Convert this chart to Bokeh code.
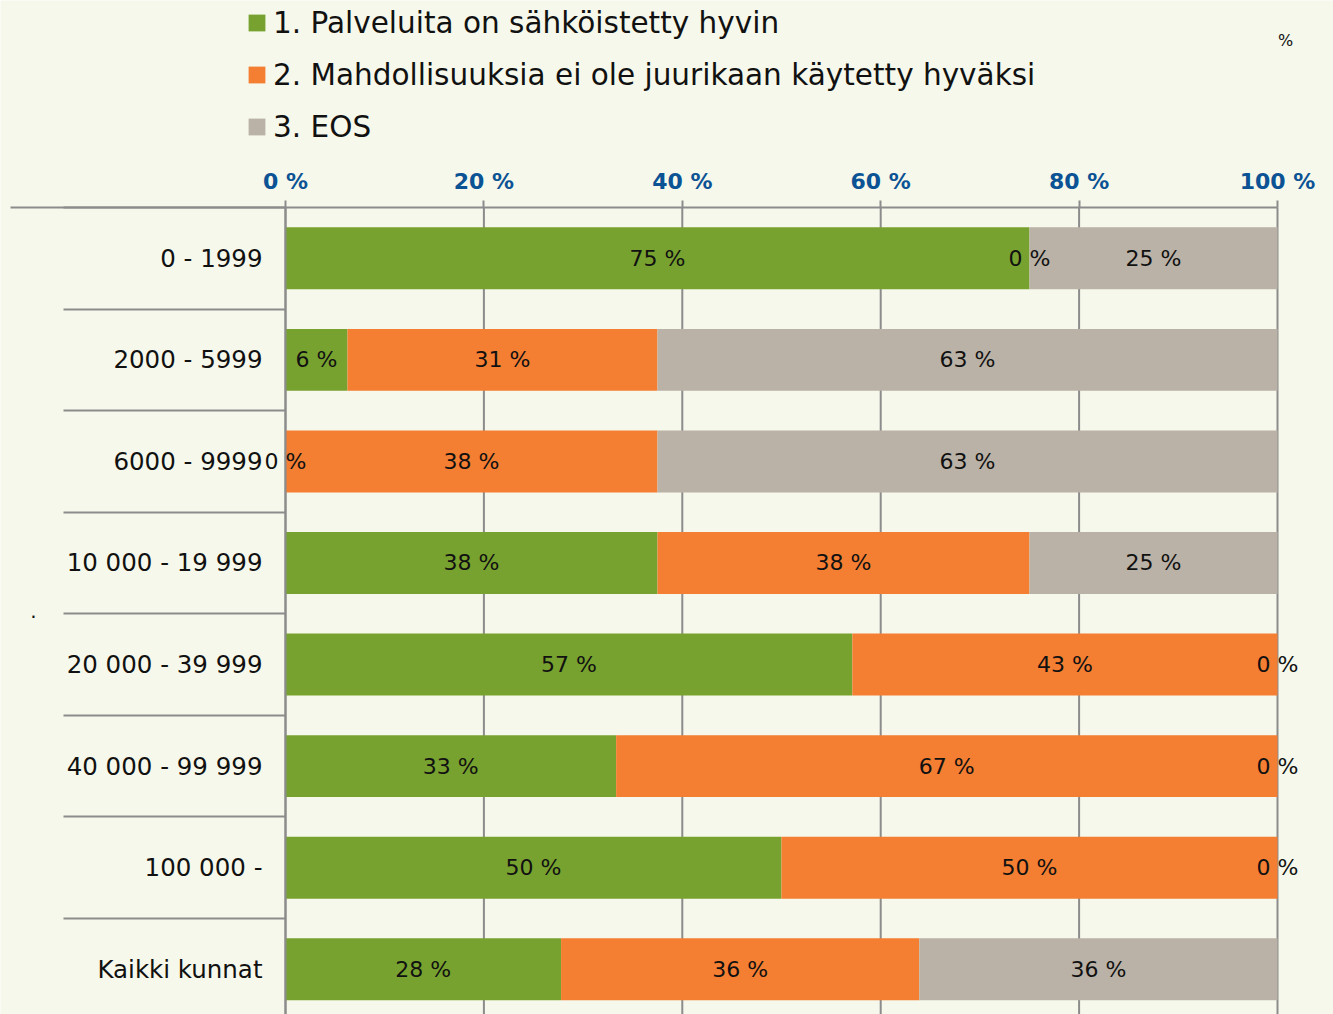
from bokeh.plotting import figure
from bokeh.models import (ColumnDataSource, Range1d, FixedTicker, Legend, LegendItem,
                          LabelSet, Label, LinearAxis)
from bokeh.embed import file_html
from bokeh.resources import INLINE
from bokeh.core.properties import value

# ---- data ----
categories = ["0 - 1999", "2000 - 5999", "6000 - 9999", "10 000 - 19 999",
              "20 000 - 39 999", "40 000 - 99 999", "100 000 -", "Kaikki kunnat"]
series_names = ["1. Palveluita on sähköistetty hyvin",
                "2. Mahdollisuuksia ei ole juurikaan käytetty hyväksi",
                "3. EOS"]
palveluita = [75.0, 6.25, 0.0, 37.5, 57.14, 33.33, 50.0, 27.78]
mahdollisuuksia = [0.0, 31.25, 37.5, 37.5, 42.86, 66.67, 50.0, 36.11]
eos = [25.0, 62.5, 62.5, 25.0, 0.0, 0.0, 0.0, 36.11]
x_ticks = [0, 20, 40, 60, 80, 100]
x_tick_labels = ["0 %", "20 %", "40 %", "60 %", "80 %", "100 %"]

colors = ["#78A22F", "#F47E32", "#BAB2A6"]
BG = "#F6F8EB"
GRID = "#8C8C8C"
FONT = "DejaVu Sans"

# ---- layout (pixels) ----
W, H = 1333, 1014
X0_PX, X100_PX = 285, 1277          # 0 % and 100 % positions
TOP_PX, BAND_PX = 207, 101.57       # top of first category band, band height
pxu = (X100_PX - X0_PX) / 100.0
x_min = -X0_PX / pxu
x_max = (W - X0_PX) / pxu
y_top = -0.5 - TOP_PX / BAND_PX
y_bot = -0.5 + (H - TOP_PX) / BAND_PX
line_left = (10 - X0_PX) / pxu      # top rule extends to the far left

ys = list(range(len(categories)))
series = [palveluita, mahdollisuuksia, eos]
keys = ["s1", "s2", "s3"]
src = ColumnDataSource(dict(y=ys, s1=palveluita, s2=mahdollisuuksia, s3=eos))

p = figure(width=W, height=H, output_backend="svg", toolbar_location=None,
           x_range=Range1d(x_min, x_max), y_range=Range1d(y_bot, y_top),
           x_axis_type=None, y_axis_type=None,
           min_border=0, min_border_left=0, min_border_right=0,
           min_border_top=0, min_border_bottom=0,
           background_fill_color=BG, border_fill_color=BG, outline_line_color=None)
p.grid.visible = False

# vertical grid lines (below the bars)
gsrc = ColumnDataSource(dict(x=x_ticks, y0=[-0.5] * len(x_ticks), y1=[y_bot] * len(x_ticks)))
p.segment(x0="x", y0="y0", x1="x", y1="y1", source=gsrc, line_color=GRID,
          line_width=2, level="underlay")

renderers = p.hbar_stack(keys, y="y", height=0.61, color=colors, line_width=0,
                         source=src)

# ---- bar value labels ----
lx, ly, lt = [], [], []
for i in ys:
    left = 0.0
    for s in series:
        v = s[i]
        lx.append(left + v / 2.0)
        ly.append(i)
        lt.append(f"{int(v + 0.5)} %")
        left += v
lab_src = ColumnDataSource(dict(x=lx, y=ly, t=lt))
p.add_layout(LabelSet(x="x", y="y", text="t", source=lab_src, text_align="center",
                      text_baseline="middle", text_font_size="22px",
                      text_font=value(FONT), text_color="#111111"))

# ---- top axis ----
xaxis = LinearAxis(fixed_location=-0.5, bounds=(line_left, 100),
                   ticker=FixedTicker(ticks=x_ticks, minor_ticks=[]),
                   major_label_overrides={t: l for t, l in zip(x_ticks, x_tick_labels)},
                   major_label_text_font=FONT, major_label_text_font_style="bold",
                   major_label_text_font_size="22px", major_label_text_color="#0B5394",
                   major_label_standoff=7, major_tick_out=7, major_tick_in=0,
                   major_tick_line_color=GRID, major_tick_line_width=2,
                   minor_tick_line_color=None, axis_line_color=GRID, axis_line_width=2)
p.add_layout(xaxis, "above")

# ---- left axis: row separators (long minor ticks, no labels) ----
sep_axis = LinearAxis(fixed_location=0, bounds=(-0.5, y_bot),
                      ticker=FixedTicker(ticks=ys, minor_ticks=[i - 0.5 for i in range(len(categories) + 1)]),
                      major_label_text_alpha=0, major_label_text_font_size="1px",
                      major_tick_out=0, major_tick_in=0,
                      minor_tick_out=222, minor_tick_in=0,
                      minor_tick_line_color=GRID, minor_tick_line_width=2,
                      axis_line_color=GRID, axis_line_width=2)
p.add_layout(sep_axis, "left")

# ---- left axis: category labels ----
yaxis = LinearAxis(fixed_location=0, bounds=(-0.5, y_bot),
                   ticker=FixedTicker(ticks=ys, minor_ticks=[]),
                   major_label_overrides={i: c for i, c in zip(ys, categories)},
                   major_label_text_font=FONT, major_label_text_font_size="24.5px",
                   major_label_text_color="#111111", major_label_standoff=23,
                   major_tick_out=0, major_tick_in=0,
                   minor_tick_out=0, minor_tick_in=0, minor_tick_line_color=None,
                   axis_line_color=None)
p.add_layout(yaxis, "left")

# ---- legend ----
legend = Legend(items=[LegendItem(label=n, renderers=[r]) for n, r in zip(series_names, renderers)],
                location=(246, H - 144), orientation="vertical",
                background_fill_alpha=0, border_line_color=None,
                label_text_font=FONT, label_text_font_size="29.5px",
                label_text_color="#111111",
                glyph_width=21, glyph_height=21, label_standoff=6,
                label_height=35, spacing=17, padding=0, margin=0)
p.add_layout(legend)

# stray marks present in the original
p.add_layout(Label(x=1285, y=H - 40, x_units="screen", y_units="screen", text="%",
                   text_font=FONT, text_font_size="16px", text_align="center",
                   text_baseline="middle", text_color="#111111"))
p.add_layout(Label(x=33, y=H - 610, x_units="screen", y_units="screen", text=".",
                   text_font=FONT, text_font_size="20px", text_align="center",
                   text_baseline="middle", text_color="#111111"))

open("out.html", "w").write(file_html(p, INLINE))
